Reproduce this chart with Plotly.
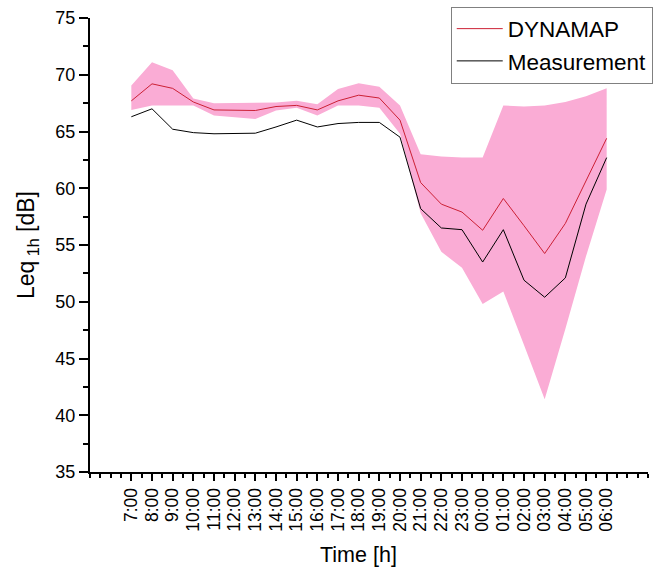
import plotly.graph_objects as go

hours = ["7:00", "8:00", "9:00", "10:00", "11:00", "12:00", "13:00", "14:00",
         "15:00", "16:00", "17:00", "18:00", "19:00", "20:00", "21:00", "22:00",
         "23:00", "00:00", "01:00", "02:00", "03:00", "04:00", "05:00", "06:00"]

dynamap = [67.7, 69.2, 68.8, 67.6, 66.9, 66.9, 66.85, 67.2, 67.3, 66.9, 67.7, 68.2,
           67.95, 66.0, 60.5, 58.6, 57.9, 56.3, 59.1, 56.7, 54.25, 56.9, 60.7, 64.4]

measurement = [66.3, 67.0, 65.2, 64.9, 64.8, 64.8, 64.85, 65.4, 66.0, 65.4, 65.7, 65.8,
               65.8, 64.5, 58.2, 56.5, 56.35, 53.5, 56.35, 51.9, 50.4, 52.1, 58.6, 62.7]

band_upper = [69.05, 71.1, 70.4, 67.9, 67.5, 67.5, 67.55, 67.55, 67.7, 67.4, 68.75, 69.25,
              68.95, 67.3, 63.0, 62.8, 62.7, 62.7, 67.3, 67.2, 67.3, 67.6, 68.1, 68.8]

band_lower = [66.9, 67.3, 67.3, 67.3, 66.4, 66.25, 66.1, 66.85, 67.1, 66.4, 67.3, 67.3,
              67.1, 64.8, 57.8, 54.4, 53.0, 49.8, 50.9, 46.2, 41.4, 47.6, 54.0, 59.9]

xpos = list(range(len(hours)))
extra_ticks = [-2, -1, len(hours), len(hours) + 1]

FONT = "Liberation Sans, Arial, sans-serif"
PINK = "#FAACD5"
RED = "#CC2035"

fig = go.Figure()
fig.add_trace(go.Scatter(x=xpos, y=band_upper, mode="lines", line=dict(width=0, color=PINK),
                         showlegend=False, hoverinfo="skip"))
fig.add_trace(go.Scatter(x=xpos, y=band_lower, mode="lines", line=dict(width=0, color=PINK),
                         fill="tonexty", fillcolor=PINK, showlegend=False, hoverinfo="skip"))
fig.add_trace(go.Scatter(x=xpos, y=dynamap, mode="lines", name="DYNAMAP",
                         line=dict(color=RED, width=1)))
fig.add_trace(go.Scatter(x=xpos, y=measurement, mode="lines", name="Measurement",
                         line=dict(color="#000000", width=1)))

fig.update_layout(
    width=657, height=569,
    margin=dict(l=90, r=4, t=17.5, b=97),
    paper_bgcolor="white", plot_bgcolor="white",
    font=dict(family=FONT, color="black"),
    legend=dict(x=0.6465, y=1.0253, xanchor="left", yanchor="top",
                traceorder="normal",
                bordercolor="#808080", borderwidth=1, bgcolor="white",
                font=dict(size=22.5, family=FONT), itemwidth=46,
                tracegroupgap=0),
    xaxis=dict(
        range=[-2, 25], tickmode="array", tickvals=xpos, ticktext=hours,
        tickangle=-90, tickfont=dict(size=17.5, family=FONT),
        showline=True, linecolor="black", linewidth=2, mirror=False,
        ticks="outside", ticklen=7, tickwidth=1.5, tickcolor="black",
        minor=dict(tickmode="linear", tick0=-2, dtick=0.5, ticks="outside",
                   ticklen=4, tickwidth=1.5, tickcolor="black", showgrid=False),
        showgrid=False, zeroline=False,
    ),
    xaxis2=dict(
        overlaying="x", side="bottom", range=[-2, 25], tickmode="array",
        tickvals=extra_ticks, showticklabels=False,
        ticks="outside", ticklen=7, tickwidth=1.5, tickcolor="black",
        showline=False, showgrid=False, zeroline=False,
    ),
    yaxis=dict(
        range=[35, 75], tickmode="linear", tick0=35, dtick=5,
        tickfont=dict(size=18, family=FONT),
        showline=True, linecolor="black", linewidth=2, mirror=False,
        ticks="outside", ticklen=9, tickwidth=1.5, tickcolor="black",
        minor=dict(tickmode="linear", tick0=35, dtick=2.5, ticks="outside",
                   ticklen=5, tickwidth=1.5, tickcolor="black", showgrid=False),
        showgrid=False, zeroline=False,
        title=dict(text="Leq<sub> 1h</sub> [dB]", font=dict(size=23, family=FONT), standoff=14),
    ),
    annotations=[
        dict(text="Time [h]", xref="paper", yref="paper", x=0.4813, y=-0.1826,
             xanchor="center", yanchor="middle", showarrow=False,
             font=dict(size=21.5, family=FONT, color="black")),
    ],
)

fig.write_html("out.html")
